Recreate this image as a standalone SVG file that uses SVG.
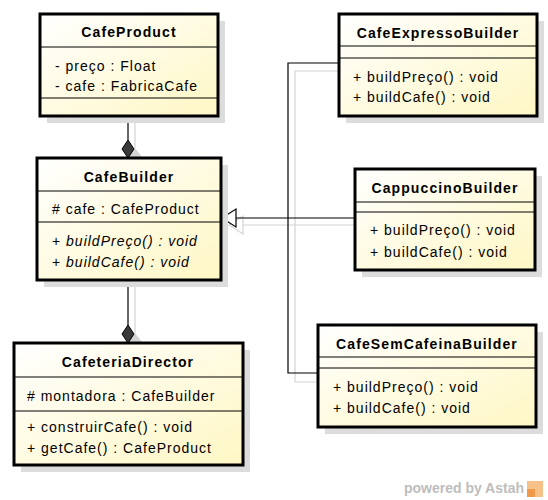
<svg xmlns="http://www.w3.org/2000/svg" width="548" height="500" viewBox="0 0 548 500">
<defs>
<linearGradient id="g" x1="0" y1="0" x2="1" y2="1">
<stop offset="0" stop-color="#FFFFFF"/>
<stop offset="1" stop-color="#FFF7C4"/>
</linearGradient>
<style>
.sh{fill:#DCDCDC}
.box{fill:url(#g);stroke:#000;stroke-width:3}
.sep{stroke:#000;stroke-width:1}
.t{font-family:"Liberation Sans",Arial,sans-serif;font-size:14px;fill:#000;letter-spacing:1px}
.b{font-weight:bold;text-anchor:middle;letter-spacing:1.1px}
.i{font-style:italic}
.ln{stroke:#000;stroke-width:1.2;fill:none}
.lns{stroke:#D4D4D4;stroke-width:1.2;fill:none}
</style>
</defs>
<rect width="548" height="500" fill="#fff"/>

<g id="connectors">
<!-- shadows -->
<line class="lns" x1="135" y1="116" x2="135" y2="148"/>
<polygon points="135,148 142,157 135,166 128,157" fill="#D4D4D4"/>
<line class="lns" x1="135" y1="280" x2="135" y2="333"/>
<polygon points="135,333 142,342 135,351 128,342" fill="#D4D4D4"/>
<polyline class="lns" points="339,71 295,71 295,382 318,382"/>
<line class="lns" x1="243" y1="225" x2="355" y2="225"/>
<polygon points="229,225 243,216 243,234" fill="#fff" stroke="#D4D4D4" stroke-width="1.2"/>
<!-- main -->
<line class="ln" x1="128" y1="116" x2="128" y2="140"/>
<polygon points="128,140 134,149 128,158 122,149" fill="#3A3A3A" stroke="#000" stroke-width="1"/>
<line class="ln" x1="128" y1="280" x2="128" y2="325"/>
<polygon points="128,325 134,334 128,343 122,334" fill="#3A3A3A" stroke="#000" stroke-width="1"/>
<polyline class="ln" points="339,63 288,63 288,373 318,373"/>
<line class="ln" x1="236" y1="218" x2="355" y2="218"/>
<polygon points="222,218 236,209 236,227" fill="#fff" stroke="#000" stroke-width="1.2"/>
</g>

<g id="CafeProduct">
<rect class="sh" x="47" y="21" width="178" height="102"/>
<rect class="box" x="40" y="14" width="178" height="102"/>
<line class="sep" x1="40" y1="47" x2="218" y2="47"/>
<line class="sep" x1="40" y1="98" x2="218" y2="98"/>
<text class="t b" x="129" y="37">CafeProduct</text>
<text class="t" x="55" y="71">- preço : Float</text>
<text class="t" x="55" y="91">- cafe : FabricaCafe</text>
</g>

<g id="CafeBuilder">
<rect class="sh" x="44" y="165" width="184" height="122"/>
<rect class="box" x="37" y="158" width="184" height="122"/>
<line class="sep" x1="37" y1="191" x2="221" y2="191"/>
<line class="sep" x1="37" y1="222" x2="221" y2="222"/>
<text class="t b" x="129" y="182">CafeBuilder</text>
<text class="t" x="52" y="214"># cafe : CafeProduct</text>
<text class="t" x="52" y="246">+ <tspan class="i">buildPreço() : void</tspan></text>
<text class="t" x="52" y="267">+ <tspan class="i">buildCafe() : void</tspan></text>
</g>

<g id="CafeteriaDirector">
<rect class="sh" x="21" y="350" width="229" height="122"/>
<rect class="box" x="14" y="343" width="229" height="122"/>
<line class="sep" x1="14" y1="377" x2="243" y2="377"/>
<line class="sep" x1="14" y1="411" x2="243" y2="411"/>
<text class="t b" x="128" y="367">CafeteriaDirector</text>
<text class="t" x="27" y="401"># montadora : CafeBuilder</text>
<text class="t" x="27" y="432">+ construirCafe() : void</text>
<text class="t" x="27" y="453">+ getCafe() : CafeProduct</text>
</g>

<g id="CafeExpressoBuilder">
<rect class="sh" x="346" y="21" width="198" height="102"/>
<rect class="box" x="339" y="14" width="198" height="102"/>
<line class="sep" x1="339" y1="46" x2="537" y2="46"/>
<line class="sep" x1="339" y1="58" x2="537" y2="58"/>
<text class="t b" x="438" y="38">CafeExpressoBuilder</text>
<text class="t" x="353" y="82">+ buildPreço() : void</text>
<text class="t" x="353" y="102">+ buildCafe() : void</text>
</g>

<g id="CappuccinoBuilder">
<rect class="sh" x="362" y="176" width="180" height="101"/>
<rect class="box" x="355" y="169" width="180" height="101"/>
<line class="sep" x1="355" y1="202" x2="535" y2="202"/>
<line class="sep" x1="355" y1="212" x2="535" y2="212"/>
<text class="t b" x="445" y="193">CappuccinoBuilder</text>
<text class="t" x="370" y="235">+ buildPreço() : void</text>
<text class="t" x="370" y="257">+ buildCafe() : void</text>
</g>

<g id="CafeSemCafeinaBuilder">
<rect class="sh" x="325" y="332" width="218" height="102"/>
<rect class="box" x="318" y="325" width="218" height="102"/>
<line class="sep" x1="318" y1="357" x2="536" y2="357"/>
<line class="sep" x1="318" y1="368" x2="536" y2="368"/>
<text class="t b" x="427" y="349">CafeSemCafeinaBuilder</text>
<text class="t" x="333" y="392">+ buildPreço() : void</text>
<text class="t" x="333" y="413">+ buildCafe() : void</text>
</g>

<g id="watermark">
<text x="404" y="493" textLength="120" lengthAdjust="spacingAndGlyphs" font-family="'Liberation Sans',Arial,sans-serif" font-size="15" font-weight="bold" fill="#BDBDBD">powered by Astah</text>
<rect x="527" y="481" width="16" height="16" fill="#F6C28A"/>
<rect x="527" y="489" width="8" height="8" fill="#EE9A4A"/>
</g>
</svg>
